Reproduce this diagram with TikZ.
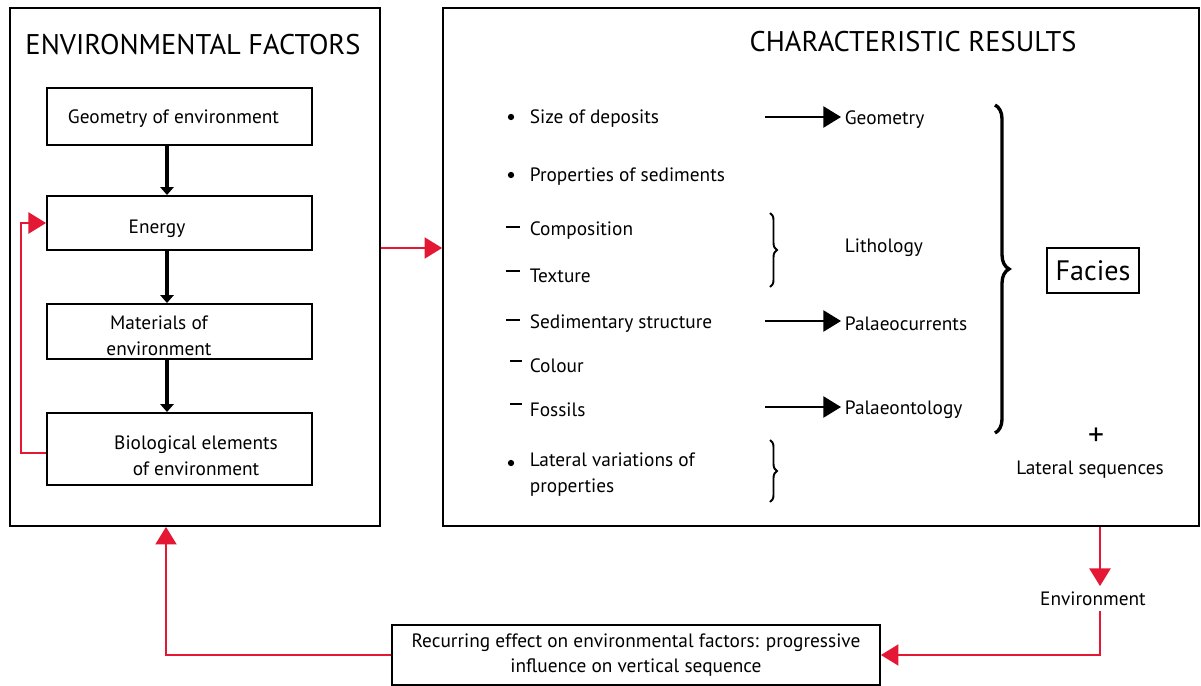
\documentclass[tikz,border=0pt]{standalone}
\usepackage{fontspec}
\setmainfont{PT Sans}
\usepackage{tikz}
\usetikzlibrary{positioning}
\usetikzlibrary{shapes,decorations.pathreplacing,calc,arrows.meta}
\definecolor{flowred}{RGB}{228,24,52}
\tikzset{
	semithick,
	outer/.style = {draw, line width=1.1pt, minimum height=10.36cm},
	factor/.style = {draw, line width=1.1pt, minimum width=5.3cm},
	head/.style = {font=\fontsize{16.2}{19}\selectfont},
	boxtext/.style = {font=\fontsize{11}{14.5}\selectfont, align=center, yshift=-1.5pt},
	item/.style = {anchor=west, inner sep=2pt, align=left, yshift=-1.5pt,
	 font=\fontsize{11}{14.5}\selectfont},
	down/.style = {-{Triangle[length=4.5pt,width=7.5pt]}, line width=2.8pt},
	pointer/.style = {-{Triangle[length=10pt,width=12pt]}, line width=1.1pt},
	curly/.style = {decorate, decoration={brace, amplitude=#1}},
}
\begin{document}
\begin{tikzpicture}[x=0.02cm, y=-0.02cm]
	\useasboundingbox (0,0) rectangle (1201,686);
	% frames
	\node (env) [outer, minimum width=7.4cm] at (195,267) {};
	\node (res) [outer, minimum width=15.12cm] at (821,267) {};
	\node (envtitle) [head] at (193,45) {ENVIRONMENTAL FACTORS};
	\node (restitle) [head] at (913,42) {CHARACTERISTIC RESULTS};
	% factors
	\node (geo) [factor, minimum height=1.14cm] at (179.5,116.5) {};
	\node (energy) [factor, minimum height=1.08cm] at (179.5,223) {};
	\node (mat) [factor, minimum height=1.1cm] at (179.5,331.5) {};
	\node (bio) [factor, minimum height=1.44cm] at (179.5,449) {};
	\node (geotext) [boxtext] at (173.5,116) {Geometry of environment};
	\node (energytext) [boxtext] at (157,226) {Energy};
	\node (mattext) [boxtext] at (159,333) {Materials of\\environment};
	\node (biotext) [boxtext] at (196,453) {Biological elements\\of environment};
	% results
	\node (size) [item] at (526,116) {Size of deposits};
	\node (props) [item] at (526,174) {Properties of sediments};
	\node (comp) [item] at (526,228) {Composition};
	\node (texture) [item] at (526,273) {Texture};
	\node (struct) [item] at (526,321) {Sedimentary structure};
	\node (colour) [item] at (526,363) {Colour};
	\node (fossil) [item] at (526,407) {Fossils};
	\node (lateral) [item] at (526,472) {Lateral variations of\\properties};
	\fill (511,117) circle (1.8pt);
	\fill (511,175) circle (1.8pt);
	\fill (511,463) circle (1.8pt);
	\draw[line width=1.2pt] (506,227) -- (520,227);
	\draw[line width=1.2pt] (506,271) -- (520,271);
	\draw[line width=1.2pt] (506,320) -- (520,320);
	\draw[line width=1.2pt] (510,361) -- (522,361);
	\draw[line width=1.2pt] (510,404) -- (522,404);
	\node (geom) [item] at (841,117) {Geometry};
	\node (litho) [item] at (841,245) {Lithology};
	\node (palcur) [item] at (841,321) {Palaeocurrents};
	\node (palont) [item] at (841,407) {Palaeontology};
	\coordinate (g1) at (765,117);
	\coordinate (p1) at (765,321);
	\coordinate (o1) at (765,407);
	\draw[pointer] (g1) -- (g1 -| geom.west);
	\draw[pointer] (p1) -- (p1 -| palcur.west);
	\draw[pointer] (o1) -- (o1 -| palont.west);
	\draw[curly=4pt, line width=1.1pt] (770,213) -- (770,287);
	\draw[curly=4pt, line width=1.1pt] (770,440) -- (770,502);
	\draw[curly=8pt, line width=1.9pt] (995,105) -- (995,433);
	\node (facies) [draw, line width=1.1pt, minimum width=1.84cm, minimum height=0.9cm,
	 font=\fontsize{16}{19}\selectfont] at (1093,270.5) {Facies};
	\node (plus) [font=\fontsize{18}{20}\selectfont] at (1096,437) {+};
	\node (latseq) [boxtext] at (1090,467) {Lateral sequences};
	% loop
	\node (envlabel) [boxtext, inner sep=3pt] at (1093,596) {Environment};
	\node (recur) [draw, line width=1.1pt, minimum width=9.76cm, minimum height=1.2cm,
	 boxtext, yshift=1.5pt] at (636,655) {Recurring effect on environmental factors: progressive\\influence on vertical sequence};
	\coordinate (fb) at (21,453);
	\coordinate (mid) at (410,248);
	\coordinate (envx) at (1100,596);
	\coordinate (upx) at (166,600);
	\draw[down] ([xshift=-0.25cm]geo.south) -- ([xshift=-0.25cm]energy.north);
	\draw[down] ([xshift=-0.25cm]energy.south) -- ([xshift=-0.25cm]mat.north);
	\draw[down] ([xshift=-0.25cm]mat.south) -- ([xshift=-0.25cm]bio.north);
	\draw[pointer, flowred] (bio.west |- fb) -- (fb) |- (energy.west);
	\draw[pointer, flowred] (env.east |- mid) -- (res.west |- mid);
	\draw[pointer, flowred] (res.south -| envx) -- (envlabel.north -| envx);
	\draw[pointer, flowred] (envlabel.south -| envx) |- (recur.east);
	\draw[pointer, flowred] (recur.west) -| (env.south -| upx);
\end{tikzpicture}
\end{document}
